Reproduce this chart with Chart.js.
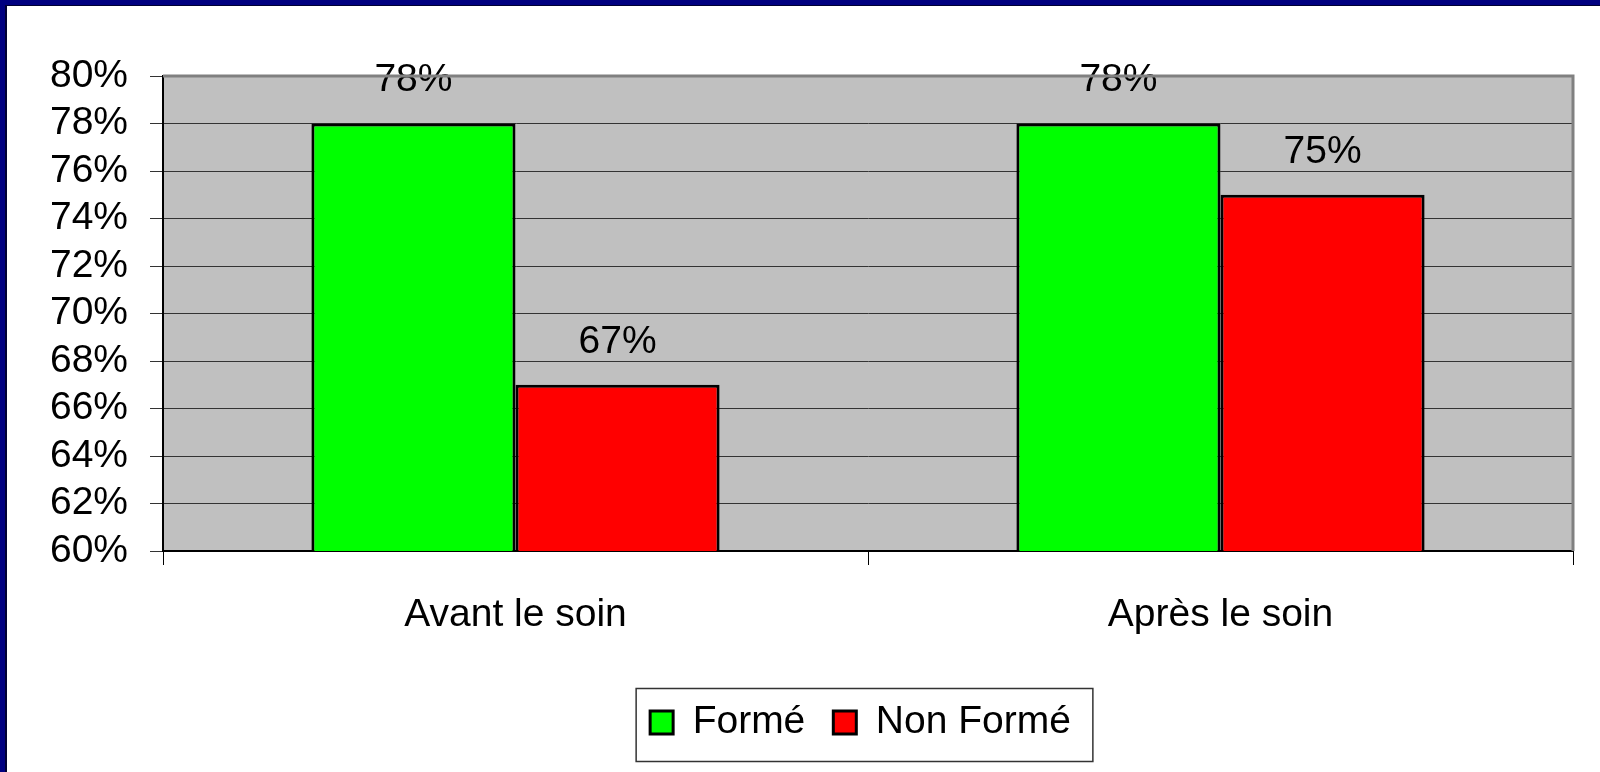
<!DOCTYPE html>
<html>
<head>
<meta charset="utf-8">
<title>Formé / Non Formé</title>
<script src="https://cdn.jsdelivr.net/npm/chart.js@4.4.1/dist/chart.umd.min.js"></script>
<style>
  html, body { margin: 0; padding: 0; background: #fff; }
  #myChart { display: block; }
</style>
</head>
<body>
<canvas id="myChart" width="1600" height="772"></canvas>
<script>
// Data
const categories = ['Avant le soin', 'Après le soin'];
const formeValues = [78, 78];
const nonFormeValues = [67, 75];
const seriesNames = ['Formé', 'Non Formé'];
const yMin = 60;
const yMax = 80;
const yStep = 2;

const FONT = '"Liberation Sans", Arial, sans-serif';
const FONT_SIZE = 39;

// navy frame + grey plot background
const backdrop = {
    id: 'backdrop',
    afterLayout(chart) {
        // legend sits a bit right of centre in the original
        chart.legend.left += 148;
    },
    beforeDraw(chart) {
        const ctx = chart.ctx;
        const a = chart.chartArea;
        ctx.save();
        ctx.fillStyle = '#000080';
        ctx.fillRect(0, 0, 7, chart.height);
        ctx.fillRect(0, 0, chart.width, 6);
        ctx.fillStyle = '#000033';
        ctx.fillRect(5, 5, 2, chart.height - 5);
        ctx.fillRect(5, 5, chart.width - 5, 1);
        ctx.fillStyle = '#C0C0C0';
        ctx.fillRect(a.left, a.top, a.right - a.left, a.bottom - a.top);
        ctx.restore();
    },
    afterDraw(chart) {
        const ctx = chart.ctx;
        const a = chart.chartArea;
        ctx.save();
        ctx.strokeStyle = '#808080';
        ctx.lineWidth = 3;
        ctx.beginPath();
        ctx.moveTo(a.left, a.top);
        ctx.lineTo(a.right, a.top);
        ctx.lineTo(a.right, a.bottom);
        ctx.stroke();

        // frame around legend
        const boxes = chart.legend.legendHitBoxes;
        if (boxes && boxes.length) {
            const left = Math.min(...boxes.map(b => b.left)) - 14;
            const right = Math.max(...boxes.map(b => b.left + b.width)) + 22;
            const cy = boxes[0].top + boxes[0].height / 2;
            ctx.strokeStyle = '#333';
            ctx.lineWidth = 1.5;
            ctx.strokeRect(left, cy - 34, right - left, 73);
        }
        ctx.restore();
    }
};

// value labels above the bars
const valueLabels = {
    id: 'valueLabels',
    afterDatasetsDraw(chart) {
        const ctx = chart.ctx;
        ctx.save();
        ctx.font = FONT_SIZE + 'px ' + FONT;
        ctx.fillStyle = '#000';
        ctx.textAlign = 'center';
        ctx.textBaseline = 'middle';
        chart.data.datasets.forEach((ds, i) => {
            chart.getDatasetMeta(i).data.forEach((bar, j) => {
                ctx.fillText(ds.data[j] + '%', bar.x, bar.y - 43);
            });
        });
        ctx.restore();
    }
};

const ctx = document.getElementById('myChart').getContext('2d');
new Chart(ctx, {
    type: 'bar',
    data: {
        labels: categories,
        datasets: [{
            label: seriesNames[0],
            data: formeValues,
            backgroundColor: '#00FF00',
            borderColor: '#000',
            borderWidth: 3,
            borderSkipped: false
        }, {
            label: seriesNames[1],
            data: nonFormeValues,
            backgroundColor: '#FF0000',
            borderColor: '#000',
            borderWidth: 3,
            borderSkipped: false
        }]
    },
    options: {
        responsive: false,
        animation: false,
        devicePixelRatio: 1,
        categoryPercentage: 0.579,
        barPercentage: 1,
        layout: {
            padding: { left: 0, top: 76, right: 27, bottom: 20 }
        },
        plugins: {
            legend: {
                position: 'bottom',
                labels: {
                    color: '#000',
                    font: { family: FONT, size: FONT_SIZE },
                    boxWidth: 23,
                    boxHeight: 23,
                    padding: 28
                }
            },
            tooltip: { enabled: false }
        },
        scales: {
            x: {
                afterFit(scale) { scale.height = 124; },
                grid: {
                    drawOnChartArea: false,
                    drawTicks: true,
                    tickLength: 14,
                    color: '#000'
                },
                border: { color: '#000', width: 2 },
                ticks: {
                    color: '#000',
                    font: { family: FONT, size: FONT_SIZE },
                    padding: 27
                }
            },
            y: {
                min: yMin,
                max: yMax,
                afterFit(scale) { scale.width = 163; },
                grid: {
                    color: '#333',
                    lineWidth: 1,
                    tickLength: 13
                },
                border: { color: '#000', width: 2 },
                ticks: {
                    stepSize: yStep,
                    autoSkip: false,
                    color: '#000',
                    font: { family: FONT, size: FONT_SIZE },
                    padding: 22,
                    callback: v => v + '%'
                }
            }
        }
    },
    plugins: [backdrop, valueLabels]
});
</script>
</body>
</html>
